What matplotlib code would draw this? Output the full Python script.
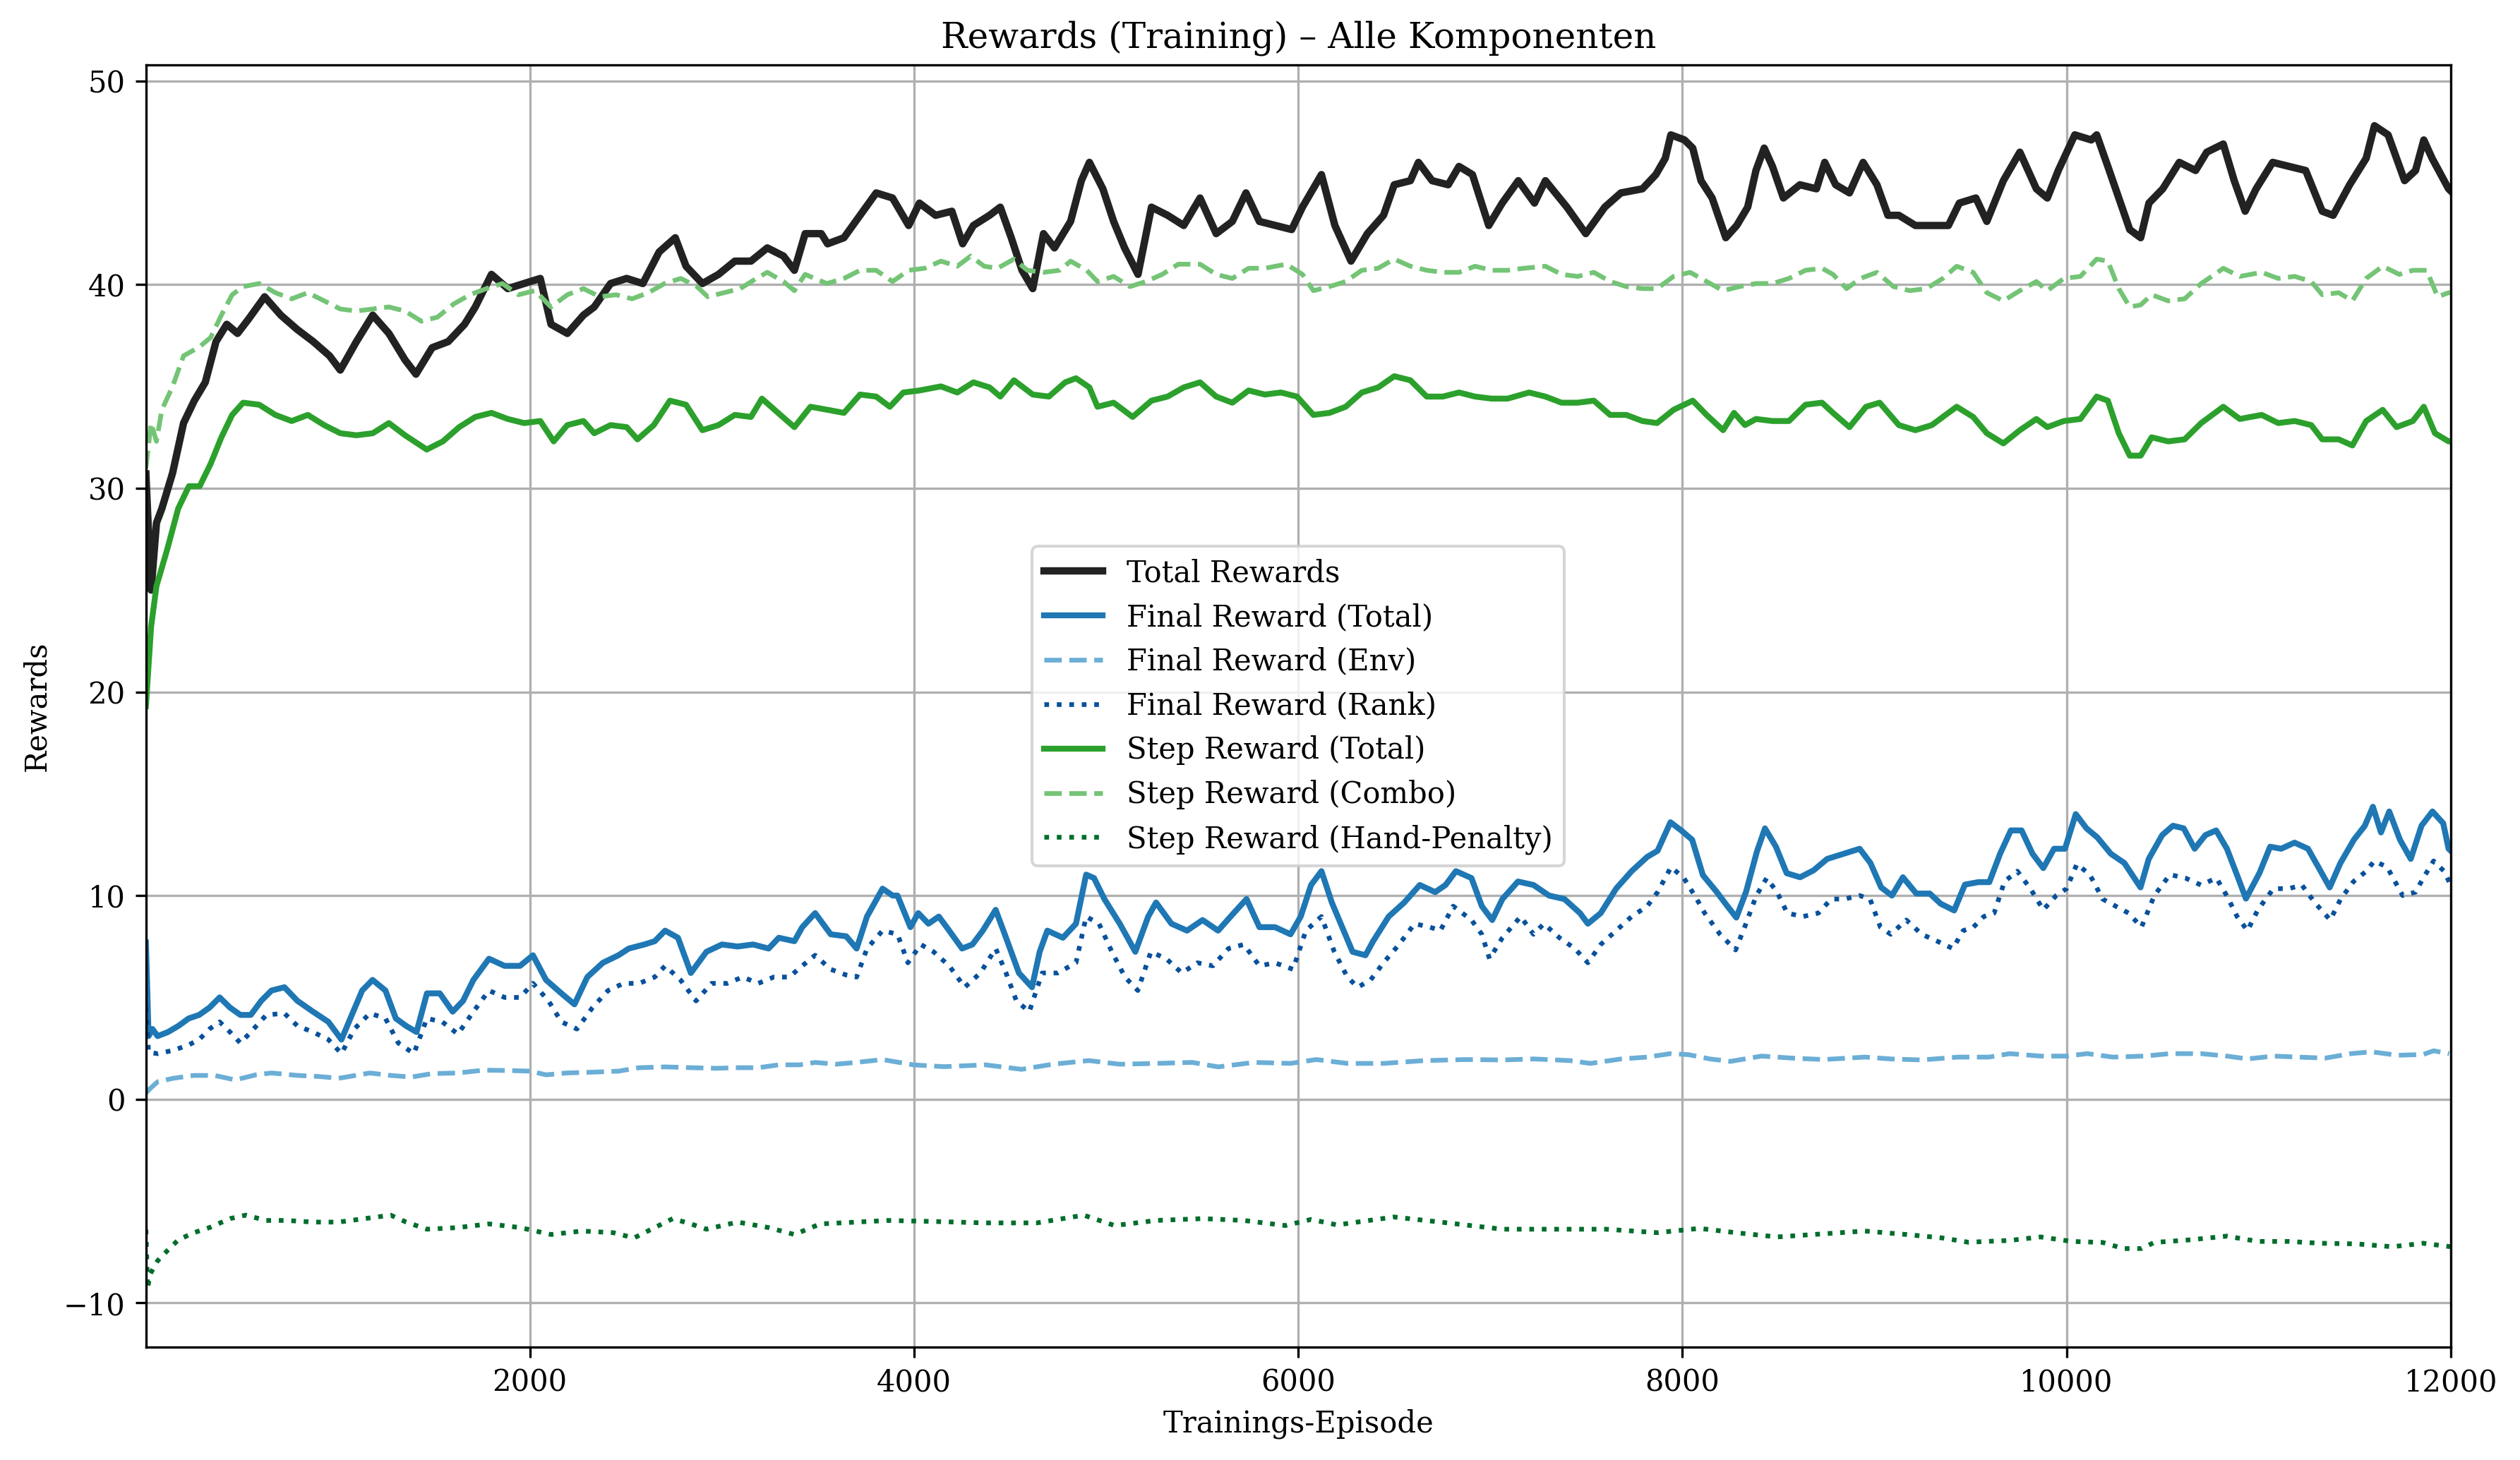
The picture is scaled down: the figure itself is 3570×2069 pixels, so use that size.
import matplotlib
matplotlib.use("Agg")
import matplotlib.pyplot as plt

plt.rcParams['font.family'] = ['DejaVu Serif']

total_ep = [1, 28, 56, 84, 140, 197, 253, 310, 366, 422, 478, 535, 619, 703, 788, 872, 957, 1013, 1097, 1182,
            1266, 1350, 1407, 1491, 1575, 1660, 1716, 1800, 1885, 1970, 2054, 2110, 2195, 2279, 2335, 2420, 2504,
            2588, 2673, 2757, 2813, 2898, 2982, 3067, 3151, 3236, 3320, 3377, 3433, 3517, 3550, 3635, 3719, 3803,
            3888, 3972, 4028, 4112, 4197, 4253, 4309, 4393, 4449, 4506, 4562, 4618, 4674, 4731, 4815, 4871, 4913,
            4983, 5039, 5096, 5166, 5236, 5320, 5404, 5489, 5573, 5657, 5728, 5798, 5882, 5966, 6022, 6121, 6191,
            6275, 6360, 6444, 6500, 6584, 6626, 6697, 6781, 6837, 6907, 6992, 7062, 7146, 7230, 7287, 7399, 7497,
            7596, 7680, 7792, 7862, 7911, 7940, 8011, 8054, 8097, 8155, 8226, 8283, 8340, 8383, 8426, 8469, 8526,
            8612, 8698, 8741, 8798, 8870, 8941, 9013, 9070, 9127, 9213, 9299, 9385, 9442, 9528, 9585, 9671, 9757,
            9843, 9900, 9957, 10043, 10129, 10157, 10215, 10272, 10329, 10386, 10429, 10501, 10587, 10672, 10730,
            10816, 10873, 10930, 10987, 11073, 11159, 11245, 11331, 11388, 11474, 11560, 11603, 11674, 11760,
            11817, 11860, 11903, 11989, 12000]
total_val = [30.7, 25.0, 28.3, 29.0, 30.75, 33.2, 34.3, 35.2, 37.2, 38.05, 37.6, 38.3, 39.4, 38.5, 37.8, 37.2, 36.5,
             35.8, 37.2, 38.5, 37.6, 36.3, 35.6, 36.9, 37.2, 38.05, 38.9, 40.5, 39.8, 40.05, 40.3, 38.05, 37.6, 38.5,
             38.9, 40.05, 40.3, 40.05, 41.6, 42.3, 40.9, 40.05, 40.5, 41.15, 41.15, 41.8, 41.4, 40.7, 42.5, 42.5,
             42.0, 42.3, 43.4, 44.5, 44.25, 42.9, 44.0, 43.4, 43.6, 42.0, 42.9, 43.4, 43.8, 42.3, 40.7, 39.8, 42.5,
             41.8, 43.1, 45.1, 46.0, 44.7, 43.1, 41.8, 40.5, 43.8, 43.4, 42.9, 44.25, 42.5, 43.1, 44.5, 43.1, 42.9,
             42.7, 43.8, 45.4, 42.9, 41.15, 42.5, 43.4, 44.9, 45.1, 46.0, 45.1, 44.9, 45.8, 45.4, 42.9, 44.0, 45.1,
             44.0, 45.1, 43.8, 42.5, 43.8, 44.5, 44.7, 45.4, 46.2, 47.35, 47.1, 46.7, 45.1, 44.25, 42.3, 42.9, 43.8,
             45.6, 46.7, 45.8, 44.25, 44.9, 44.7, 46.0, 44.9, 44.5, 46.0, 44.9, 43.4, 43.4, 42.9, 42.9, 42.9, 44.0,
             44.25, 43.1, 45.1, 46.5, 44.7, 44.25, 45.6, 47.35, 47.1, 47.35, 45.8, 44.25, 42.7, 42.3, 44.0, 44.7,
             46.0, 45.6, 46.5, 46.9, 45.1, 43.6, 44.7, 46.0, 45.8, 45.6, 43.6, 43.4, 44.9, 46.2, 47.8, 47.35, 45.1,
             45.6, 47.1, 46.2, 44.7, 44.6]

final_total_ep = [1, 15, 35, 62, 116, 170, 224, 278, 332, 385, 439, 493, 547, 601, 655, 722, 790, 871, 951, 1019,
                  1073, 1127, 1181, 1248, 1302, 1356, 1410, 1464, 1531, 1598, 1652, 1706, 1787, 1868, 1949, 2016,
                  2084, 2164, 2232, 2299, 2380, 2461, 2515, 2596, 2650, 2704, 2771, 2838, 2919, 3000, 3081, 3162,
                  3243, 3296, 3377, 3418, 3485, 3566, 3647, 3701, 3755, 3836, 3889, 3914, 3981, 4022, 4075, 4129,
                  4183, 4250, 4304, 4358, 4425, 4479, 4546, 4614, 4654, 4694, 4775, 4843, 4896, 4937, 4991, 5071,
                  5152, 5219, 5260, 5340, 5421, 5502, 5583, 5664, 5731, 5798, 5879, 5960, 6013, 6067, 6121, 6175,
                  6229, 6283, 6350, 6390, 6471, 6552, 6633, 6713, 6767, 6821, 6902, 6956, 7010, 7063, 7144, 7225,
                  7306, 7386, 7467, 7508, 7575, 7655, 7736, 7817, 7871, 7938, 7994, 8051, 8107, 8177, 8233, 8281,
                  8332, 8388, 8430, 8487, 8543, 8613, 8683, 8754, 8838, 8923, 8979, 9035, 9091, 9148, 9218, 9288,
                  9345, 9415, 9471, 9541, 9598, 9654, 9710, 9766, 9823, 9879, 9935, 9992, 10048, 10104, 10160,
                  10231, 10301, 10385, 10428, 10498, 10554, 10610, 10667, 10723, 10779, 10835, 10892, 10934, 11004,
                  11060, 11117, 11187, 11257, 11314, 11370, 11426, 11496, 11553, 11595, 11637, 11680, 11736, 11792,
                  11848, 11905, 11961, 11989, 12000]
final_total_val = [7.7, 3.1, 3.45, 3.1, 3.3, 3.6, 3.97, 4.14, 4.5, 5.0, 4.5, 4.14, 4.14, 4.83, 5.34, 5.5, 4.83, 4.3,
                   3.8, 2.93, 4.14, 5.34, 5.86, 5.34, 3.97, 3.6, 3.3, 5.2, 5.2, 4.3, 4.83, 5.86, 6.9, 6.55, 6.55,
                   7.07, 5.86, 5.2, 4.66, 6.0, 6.7, 7.07, 7.4, 7.6, 7.76, 8.28, 7.93, 6.2, 7.24, 7.6, 7.5, 7.6, 7.4,
                   7.93, 7.76, 8.45, 9.14, 8.1, 8.0, 7.4, 8.97, 10.34, 10.0, 10.0, 8.45, 9.14, 8.62, 8.97, 8.28, 7.4,
                   7.6, 8.28, 9.3, 7.93, 6.2, 5.5, 7.24, 8.28, 7.93, 8.62, 11.03, 10.86, 9.83, 8.62, 7.24, 8.97, 9.66,
                   8.62, 8.28, 8.8, 8.28, 9.14, 9.83, 8.45, 8.45, 8.1, 8.97, 10.52, 11.2, 9.66, 8.45, 7.24, 7.07,
                   7.76, 8.97, 9.66, 10.52, 10.17, 10.52, 11.2, 10.86, 9.48, 8.8, 9.83, 10.69, 10.52, 10.0, 9.83,
                   9.14, 8.62, 9.14, 10.34, 11.2, 11.9, 12.2, 13.6, 13.2, 12.74, 11.0, 10.2, 9.5, 8.92, 10.2, 12.16,
                   13.3, 12.4, 11.1, 10.9, 11.24, 11.8, 12.05, 12.3, 11.6, 10.4, 10.0, 10.9, 10.1, 10.1, 9.6, 9.27,
                   10.54, 10.66, 10.66, 12.05, 13.2, 13.2, 12.05, 11.35, 12.3, 12.3, 14.0, 13.3, 12.86, 12.05, 11.6,
                   10.4, 11.8, 12.97, 13.43, 13.3, 12.3, 12.97, 13.2, 12.3, 10.9, 9.85, 11.1, 12.4, 12.3, 12.6, 12.3,
                   11.35, 10.4, 11.6, 12.74, 13.43, 14.36, 13.1, 14.13, 12.74, 11.8, 13.43, 14.13, 13.55, 12.3, 12.2]

final_env_ep = [1, 20, 62, 143, 251, 359, 466, 574, 655, 790, 898, 1005, 1167, 1275, 1383, 1491, 1625, 1760, 1895,
                2003, 2084, 2191, 2326, 2461, 2569, 2704, 2838, 2973, 3081, 3189, 3296, 3404, 3485, 3593, 3701,
                3836, 3995, 4156, 4371, 4560, 4721, 4910, 5071, 5260, 5448, 5583, 5771, 5960, 6094, 6256, 6444,
                6659, 6875, 7063, 7225, 7413, 7521, 7682, 7817, 7938, 8032, 8143, 8250, 8412, 8573, 8735, 8950,
                9085, 9246, 9435, 9596, 9704, 9865, 10000, 10108, 10242, 10404, 10538, 10700, 10834, 10942, 11077,
                11211, 11346, 11481, 11588, 11723, 11857, 11911, 11992]
final_env_val = [0.3, 0.5, 0.86, 1.03, 1.17, 1.17, 0.95, 1.2, 1.29, 1.17, 1.12, 1.03, 1.29, 1.17, 1.09, 1.26, 1.29,
                 1.43, 1.41, 1.38, 1.2, 1.29, 1.33, 1.38, 1.55, 1.59, 1.55, 1.52, 1.55, 1.55, 1.69, 1.69, 1.81,
                 1.72, 1.81, 1.95, 1.69, 1.6, 1.69, 1.47, 1.72, 1.9, 1.72, 1.76, 1.81, 1.59, 1.81, 1.76, 1.95, 1.76,
                 1.76, 1.9, 1.95, 1.93, 1.98, 1.9, 1.76, 1.98, 2.07, 2.24, 2.19, 1.98, 1.86, 2.12, 2.02, 1.95, 2.07,
                 1.98, 1.93, 2.07, 2.07, 2.24, 2.12, 2.12, 2.24, 2.07, 2.12, 2.24, 2.24, 2.12, 1.98, 2.12, 2.07,
                 2.02, 2.24, 2.33, 2.16, 2.2, 2.38, 2.24]

final_rank_ep = [1, 15, 62, 143, 224, 278, 332, 385, 439, 493, 547, 628, 722, 790, 871, 951, 1019, 1086, 1167, 1248,
                 1315, 1396, 1464, 1544, 1625, 1706, 1787, 1868, 1949, 2016, 2097, 2164, 2245, 2326, 2407, 2488,
                 2569, 2650, 2704, 2784, 2865, 2946, 3027, 3108, 3189, 3270, 3350, 3418, 3485, 3566, 3647, 3701,
                 3755, 3836, 3914, 3968, 4035, 4102, 4183, 4264, 4345, 4425, 4479, 4533, 4600, 4667, 4748, 4843,
                 4896, 4963, 5030, 5098, 5165, 5233, 5313, 5394, 5475, 5556, 5637, 5717, 5798, 5879, 5973, 6040,
                 6121, 6188, 6256, 6310, 6377, 6444, 6525, 6606, 6686, 6740, 6807, 6902, 6956, 6996, 7063, 7158,
                 7225, 7279, 7360, 7440, 7508, 7575, 7655, 7736, 7817, 7871, 7941, 8008, 8075, 8116, 8196, 8277,
                 8331, 8385, 8439, 8493, 8546, 8627, 8708, 8775, 8843, 8923, 8977, 9031, 9085, 9166, 9246, 9327,
                 9408, 9462, 9515, 9569, 9623, 9677, 9744, 9812, 9879, 9946, 10000, 10054, 10121, 10188, 10256,
                 10323, 10390, 10457, 10538, 10619, 10700, 10780, 10834, 10888, 10942, 10996, 11077, 11157, 11225,
                 11292, 11373, 11427, 11494, 11561, 11602, 11669, 11750, 11817, 11857, 11911, 11965, 12000]
final_rank_val = [4.5, 2.3, 2.24, 2.4, 2.67, 2.93, 3.45, 3.8, 3.3, 2.76, 3.3, 4.14, 4.22, 3.6, 3.3, 2.93, 2.24,
                  3.45, 4.22, 3.97, 2.76, 2.24, 3.97, 3.8, 3.2, 4.3, 5.34, 5.0, 5.0, 5.69, 4.83, 3.8, 3.45, 4.5,
                  5.34, 5.69, 5.69, 6.0, 6.55, 5.86, 4.83, 5.69, 5.69, 6.0, 5.69, 6.0, 6.0, 6.55, 7.07, 6.38, 6.1,
                  6.0, 7.4, 8.28, 8.1, 6.7, 7.6, 7.24, 6.55, 5.5, 6.2, 7.4, 6.2, 4.83, 4.3, 6.2, 6.2, 6.7, 8.97,
                  8.62, 7.24, 6.0, 5.34, 7.24, 6.9, 6.2, 6.7, 6.55, 7.4, 7.6, 6.55, 6.7, 6.38, 8.28, 8.97, 7.24, 6.0,
                  5.5, 5.86, 6.7, 7.6, 8.62, 8.45, 8.28, 9.48, 8.8, 8.1, 6.9, 7.93, 8.97, 8.1, 8.62, 7.93, 7.4, 6.7,
                  7.6, 8.28, 8.97, 9.48, 10.17, 11.4, 10.86, 9.83, 9.14, 8.1, 7.33, 8.62, 10.0, 10.86, 10.17, 9.14,
                  8.97, 9.14, 9.83, 9.83, 10.0, 9.83, 8.45, 8.1, 8.8, 8.1, 7.76, 7.4, 8.28, 8.45, 8.97, 9.14, 10.69,
                  11.2, 10.34, 9.3, 10.0, 10.34, 11.55, 11.03, 9.83, 9.48, 9.14, 8.45, 10.0, 11.03, 10.86, 10.52,
                  10.86, 10.0, 8.97, 8.28, 9.3, 10.34, 10.34, 10.52, 9.66, 8.8, 9.83, 10.69, 11.2, 11.7, 11.4, 10.0,
                  10.17, 10.86, 11.7, 11.2, 10.52]

step_total_ep = [1, 28, 56, 112, 169, 225, 281, 338, 394, 450, 507, 591, 675, 760, 844, 929, 1013, 1097, 1182, 1266,
                 1350, 1463, 1547, 1632, 1716, 1800, 1885, 1970, 2054, 2124, 2195, 2279, 2335, 2420, 2504, 2560,
                 2645, 2729, 2813, 2898, 2982, 3067, 3151, 3208, 3292, 3377, 3461, 3550, 3635, 3719, 3803, 3874,
                 3944, 4028, 4140, 4225, 4309, 4393, 4449, 4520, 4618, 4702, 4787, 4843, 4913, 4955, 5039, 5138,
                 5236, 5320, 5404, 5489, 5573, 5657, 5742, 5826, 5910, 5994, 6079, 6163, 6247, 6331, 6416, 6500,
                 6584, 6669, 6753, 6837, 6921, 7006, 7090, 7202, 7287, 7371, 7455, 7539, 7624, 7708, 7792, 7868,
                 7954, 8054, 8126, 8212, 8269, 8326, 8383, 8469, 8555, 8641, 8727, 8784, 8870, 8956, 9027, 9127,
                 9213, 9299, 9356, 9428, 9514, 9585, 9671, 9757, 9843, 9900, 9986, 10072, 10157, 10215, 10272,
                 10329, 10386, 10443, 10529, 10615, 10701, 10816, 10902, 11016, 11102, 11188, 11274, 11331, 11417,
                 11488, 11560, 11646, 11718, 11803, 11860, 11918, 11989, 12000]
step_total_val = [19.3, 23.2, 25.2, 27.0, 29.0, 30.1, 30.1, 31.2, 32.5, 33.6, 34.2, 34.1, 33.6, 33.3, 33.6, 33.1,
                  32.7, 32.6, 32.7, 33.2, 32.6, 31.9, 32.3, 33.0, 33.5, 33.7, 33.4, 33.2, 33.3, 32.3, 33.1, 33.3,
                  32.7, 33.1, 33.0, 32.4, 33.1, 34.3, 34.1, 32.85, 33.1, 33.6, 33.5, 34.4, 33.7, 33.0, 34.0, 33.85,
                  33.7, 34.6, 34.5, 34.0, 34.7, 34.8, 35.0, 34.7, 35.2, 34.95, 34.5, 35.3, 34.6, 34.5, 35.2, 35.4,
                  34.95, 34.0, 34.2, 33.5, 34.3, 34.5, 34.95, 35.2, 34.5, 34.2, 34.8, 34.6, 34.7, 34.5, 33.6, 33.7,
                  34.0, 34.7, 34.95, 35.5, 35.3, 34.5, 34.5, 34.7, 34.5, 34.4, 34.4, 34.7, 34.5, 34.2, 34.2, 34.3,
                  33.6, 33.6, 33.3, 33.2, 33.85, 34.3, 33.6, 32.85, 33.7, 33.1, 33.4, 33.3, 33.3, 34.1, 34.2, 33.7,
                  33.0, 34.0, 34.2, 33.1, 32.85, 33.1, 33.5, 34.0, 33.5, 32.7, 32.2, 32.85, 33.4, 33.0, 33.3, 33.4,
                  34.5, 34.3, 32.7, 31.6, 31.6, 32.5, 32.3, 32.4, 33.2, 34.0, 33.4, 33.6, 33.2, 33.3, 33.1, 32.4,
                  32.4, 32.1, 33.3, 33.85, 33.0, 33.3, 34.0, 32.7, 32.3, 32.3]

combo_ep = [1, 28, 56, 84, 140, 197, 281, 338, 394, 450, 507, 591, 675, 760, 844, 929, 1013, 1097, 1182, 1266, 1350,
            1435, 1519, 1604, 1688, 1773, 1857, 1941, 2026, 2110, 2195, 2279, 2364, 2448, 2532, 2617, 2701, 2786,
            2870, 2926, 3011, 3095, 3179, 3236, 3320, 3377, 3433, 3546, 3635, 3719, 3803, 3888, 3972, 4056, 4140,
            4225, 4295, 4365, 4435, 4520, 4590, 4674, 4758, 4815, 4899, 4955, 5039, 5124, 5208, 5292, 5376, 5489,
            5573, 5657, 5742, 5826, 5938, 6022, 6079, 6163, 6247, 6331, 6416, 6500, 6584, 6669, 6753, 6837, 6921,
            7006, 7090, 7174, 7287, 7371, 7455, 7539, 7624, 7708, 7792, 7868, 7954, 8040, 8126, 8212, 8298, 8383,
            8469, 8555, 8641, 8727, 8784, 8855, 8927, 9013, 9099, 9184, 9270, 9356, 9428, 9514, 9585, 9671, 9757,
            9843, 9900, 9986, 10072, 10157, 10215, 10272, 10329, 10386, 10443, 10529, 10615, 10701, 10787, 10816,
            10902, 11016, 11102, 11188, 11274, 11331, 11417, 11488, 11560, 11646, 11732, 11803, 11875, 11932,
            11989, 12000]
combo_val = [31.0, 33.2, 32.3, 33.85, 35.0, 36.5, 36.95, 37.4, 38.5, 39.5, 39.9, 40.05, 39.6, 39.3, 39.6, 39.2, 38.8,
             38.7, 38.8, 38.9, 38.7, 38.2, 38.4, 39.05, 39.5, 39.8, 40.05, 39.5, 39.7, 38.9, 39.5, 39.8, 39.4, 39.5,
             39.3, 39.6, 40.05, 40.3, 39.9, 39.4, 39.6, 39.8, 40.3, 40.6, 40.15, 39.7, 40.5, 40.05, 40.3, 40.7,
             40.7, 40.15, 40.7, 40.8, 41.15, 40.9, 41.4, 40.9, 40.8, 41.25, 40.7, 40.6, 40.7, 41.15, 40.7, 40.15,
             40.4, 39.9, 40.15, 40.5, 41.0, 41.0, 40.5, 40.3, 40.8, 40.8, 41.0, 40.5, 39.7, 39.9, 40.15, 40.7, 40.8,
             41.25, 40.9, 40.7, 40.6, 40.6, 40.9, 40.7, 40.7, 40.8, 40.9, 40.5, 40.4, 40.6, 40.15, 39.9, 39.8, 39.8,
             40.4, 40.6, 40.15, 39.7, 39.9, 40.05, 40.05, 40.3, 40.7, 40.8, 40.5, 39.8, 40.3, 40.6, 39.9, 39.7,
             39.8, 40.3, 40.9, 40.6, 39.6, 39.2, 39.7, 40.15, 39.7, 40.3, 40.4, 41.25, 41.15, 39.8, 38.9, 39.0, 39.5,
             39.2, 39.3, 40.05, 40.6, 40.8, 40.4, 40.6, 40.3, 40.4, 40.15, 39.5, 39.6, 39.2, 40.3, 40.9, 40.5, 40.7,
             40.7, 39.4, 39.6, 39.6]

penalty_ep = [1, 10, 22, 62, 116, 170, 251, 332, 439, 520, 628, 736, 871, 1005, 1140, 1275, 1356, 1464, 1625, 1787,
              1949, 2110, 2272, 2434, 2542, 2650, 2744, 2838, 2919, 3081, 3243, 3377, 3512, 3701, 3863, 4102, 4371,
              4640, 4883, 5044, 5260, 5502, 5717, 5933, 6067, 6202, 6498, 6740, 7063, 7333, 7602, 7871, 8089, 8277,
              8493, 8681, 8950, 9166, 9354, 9489, 9704, 9865, 10027, 10188, 10296, 10390, 10457, 10646, 10834,
              10996, 11157, 11319, 11507, 11696, 11857, 12000]
penalty_val = [-6.4, -9.3, -8.6, -7.93, -7.4, -6.9, -6.55, -6.3, -5.86, -5.69, -5.95, -5.95, -6.03, -6.03, -5.86,
               -5.69, -6.03, -6.38, -6.3, -6.12, -6.3, -6.64, -6.47, -6.55, -6.81, -6.3, -5.86, -6.12, -6.38, -6.03,
               -6.3, -6.64, -6.12, -6.03, -5.95, -6.0, -6.07, -6.07, -5.69, -6.2, -5.95, -5.86, -5.95, -6.2, -5.9,
               -6.17, -5.78, -6.03, -6.38, -6.38, -6.38, -6.55, -6.34, -6.55, -6.76, -6.64, -6.47, -6.64, -6.81,
               -7.02, -6.93, -6.76, -6.98, -7.03, -7.33, -7.33, -7.03, -6.9, -6.72, -6.98, -6.98, -7.07, -7.1,
               -7.24, -7.07, -7.24]

labels = ["Total Rewards", "Final Reward (Total)", "Final Reward (Env)", "Final Reward (Rank)",
          "Step Reward (Total)", "Step Reward (Combo)", "Step Reward (Hand-Penalty)"]

fig = plt.figure(figsize=(11.9, 6.897), dpi=300)
ax = fig.add_axes([0.0579, 0.0773, 0.9725 - 0.0579, 0.9553 - 0.0773])

ax.plot(total_ep, total_val, color='#222222', lw=2.5, ls='-', label=labels[0])
ax.plot(final_total_ep, final_total_val, color='#1f77b4', lw=2.0, ls='-', label=labels[1])
ax.plot(final_env_ep, final_env_val, color='#6baed6', lw=1.6, ls='--', label=labels[2])
ax.plot(final_rank_ep, final_rank_val, color='#08519c', lw=1.6, ls=':', label=labels[3])
ax.plot(step_total_ep, step_total_val, color='#2ca02c', lw=2.0, ls='-', label=labels[4])
ax.plot(combo_ep, combo_val, color='#74c476', lw=1.6, ls='--', label=labels[5])
ax.plot(penalty_ep, penalty_val, color='#006d2c', lw=1.6, ls=':', label=labels[6])

ax.set_xlim(1, 12000)
ax.set_ylim(-12.17, 50.77)
ax.set_xticks([2000, 4000, 6000, 8000, 10000, 12000])
ax.set_yticks([-10, 0, 10, 20, 30, 40, 50])
ax.grid(True)
ax.set_title("Rewards (Training) – Alle Komponenten", fontsize=12)
ax.set_xlabel("Trainings-Episode")
ax.set_ylabel("Rewards")
ax.legend(loc='center')

fig.savefig("out.png", dpi=300)
